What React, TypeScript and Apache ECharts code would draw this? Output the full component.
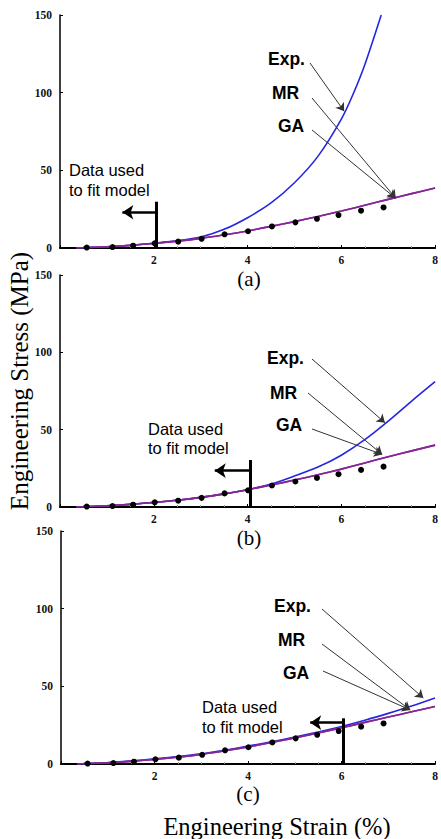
import React, { useEffect, useRef } from 'react';
import * as echarts from 'echarts';

// Model curve abscissae (engineering strain, %)
const strainModel = [0.35, 0.5, 1, 1.5, 2, 2.5, 3, 3.5, 4, 4.5, 5, 5.5, 6, 6.5, 7, 7.5, 8];
const strainExpA = [0.35, 0.5, 1, 1.5, 2, 2.5, 3, 3.5, 4, 4.5, 5, 5.5, 6, 6.25, 6.5, 6.85];

// Panel (a)
const expA = [0, 0.2, 0.8, 1.8, 3.1, 4.6, 7, 12, 19.5, 29, 42, 59, 83, 99, 118, 150];
const mrA = [0, 0.2, 0.8, 1.7, 3.0, 4.4, 6.2, 8.5, 11, 13.9, 17, 20.3, 23.8, 27.5, 31.3, 35, 38.6];
const gaA = [0, 0.2, 0.8, 1.7, 3.0, 4.4, 6.2, 8.5, 11, 13.9, 17, 20.3, 23.8, 27.5, 31.3, 35, 38.6];
// Panel (b)
const expB = [0, 0.2, 0.8, 1.7, 3.0, 4.4, 6.2, 8.5, 11.2, 14.8, 20, 25.8, 33.5, 43.5, 55.5, 68.5, 81];
const mrB = [0, 0.2, 0.8, 1.7, 3.0, 4.4, 6.2, 8.5, 11.2, 14.2, 17.4, 20.8, 24.5, 28.5, 32.5, 36.3, 40];
const gaB = [0, 0.2, 0.8, 1.7, 3.0, 4.4, 6.2, 8.5, 11.2, 14.2, 17.4, 20.8, 24.5, 28.5, 32.5, 36.3, 40];
// Panel (c)
const expC = [0, 0.25, 1, 2, 3.3, 4.8, 6.6, 8.9, 11.5, 14.3, 17.3, 20.6, 24.2, 28.2, 32.6, 37.3, 42.5];
const mrC = [0, 0.2, 0.8, 1.7, 3.0, 4.4, 6.2, 8.5, 11, 13.8, 16.8, 20, 23.3, 26.8, 30.2, 33.6, 37];
const gaC = [0, 0.2, 0.8, 1.7, 3.0, 4.4, 6.2, 8.5, 11, 13.8, 16.8, 20, 23.3, 26.8, 30.2, 33.6, 37];

// Test data points (dots)
const testStrain = [0.57, 1.12, 1.56, 2.02, 2.52, 3.02, 3.51, 4.01, 4.52, 5.02, 5.48, 5.94, 6.42, 6.9];
const testStress = [0.3, 0.6, 1.5, 3.0, 4.1, 5.9, 8.8, 10.8, 13.9, 16.5, 18.8, 21.2, 24.0, 26.1];

// Axis ticks
const stressTicks = [0, 50, 100, 150];
const strainTicks = [0, 2, 4, 6, 8];

const panelLabels = ['(a)', '(b)', '(c)'];
const fitLimits = [2.05, 4.05, 6.04];

const grids = [
  { left: 60, top: 15, width: 380, height: 233 },
  { left: 60, top: 275, width: 380, height: 232 },
  { left: 61, top: 531, width: 374, height: 233 },
];

// annotation layout (pixel text, arrow from pixel to data point)
const annots = [
  {
    exp: { text: [268, 59], from: [310, 63], to: [6.06, 88] },
    mr: { text: [272, 93], from: [312, 98], to: [7.16, 32] },
    ga: { text: [278, 126], from: [312, 130], to: [7.16, 32] },
    data: [69, 170, 190],
    bracket: { top: 29.8, arrowY: 23, arrowTo: 1.33 },
    label: [249, 279],
  },
  {
    exp: { text: [267, 358], from: [312, 359], to: [6.93, 54.5] },
    mr: { text: [270, 393], from: [308, 393], to: [6.87, 34] },
    ga: { text: [276, 425], from: [312, 429], to: [6.87, 34] },
    data: [148, 429, 448],
    bracket: { top: 30.4, arrowY: 23.5, arrowTo: 3.3 },
    label: [249, 538],
  },
  {
    exp: { text: [274, 606], from: [322, 609], to: [7.75, 42.5] },
    mr: { text: [278, 640], from: [322, 644], to: [7.47, 34.8] },
    ga: { text: [283, 673], from: [323, 671], to: [7.47, 34.8] },
    data: [202, 707, 727],
    bracket: { top: 29.4, arrowY: 26.6, arrowTo: 5.33 },
    label: [248, 794],
  },
];

const expSets = [expA, expB, expC];
const mrSets = [mrA, mrB, mrC];
const gaSets = [gaA, gaB, gaC];

const tickFont = { fontFamily: 'Liberation Serif', fontWeight: 'bold' as const, fontSize: 11.5, color: '#111' };

export default function App() {
  const ref = useRef<HTMLDivElement>(null);
  useEffect(() => {
    if (!ref.current) return;
    const chart = echarts.init(ref.current, undefined, { renderer: 'svg' });
    const xAxis: any[] = [];
    const yAxis: any[] = [];
    const series: any[] = [];
    const graphic: any[] = [];

    grids.forEach((g, i) => {
      xAxis.push({
        type: 'value', gridIndex: i, min: strainTicks[0], max: strainTicks[strainTicks.length - 1], interval: 2,
        axisLine: { show: true, lineStyle: { color: '#000', width: 2 } },
        axisTick: { show: true, inside: true, length: 3, lineStyle: { color: '#000' } },
        minorTick: { show: true, splitNumber: 4, length: 2, lineStyle: { color: '#999' } },
        axisLabel: { ...tickFont, margin: 6, formatter: (v: number) => (v === 0 ? '' : String(v)) },
        splitLine: { show: false },
      });
      yAxis.push({
        type: 'value', gridIndex: i, min: stressTicks[0], max: stressTicks[stressTicks.length - 1], interval: 50,
        axisLine: { show: true, lineStyle: { color: '#000', width: 1.5 } },
        axisTick: { show: true, inside: true, length: 3, lineStyle: { color: '#000' } },
        axisLabel: { ...tickFont, margin: 8 },
        splitLine: { show: false },
      });
      const a = annots[i];
      const strainForExp = i === 0 ? strainExpA : strainModel;
      series.push({
        name: 'Exp.', type: 'line', xAxisIndex: i, yAxisIndex: i, smooth: 0.3, symbol: 'none',
        data: strainForExp.map((x, k) => [x, expSets[i][k]]),
        lineStyle: { color: '#2626e0', width: 1.6 }, z: 3,
      });
      series.push({
        name: 'MR', type: 'line', xAxisIndex: i, yAxisIndex: i, smooth: 0.3, symbol: 'none',
        data: strainModel.map((x, k) => [x, mrSets[i][k]]),
        lineStyle: { color: '#a0207a', width: 1.6 }, z: 3,
      });
      const arrowStyle = { color: '#333', width: 1, type: 'solid' };
      series.push({
        name: 'GA', type: 'line', xAxisIndex: i, yAxisIndex: i, smooth: 0.3, symbol: 'none',
        data: strainModel.map((x, k) => [x, gaSets[i][k]]),
        lineStyle: { color: '#80289a', width: 1.6 }, z: 4,
        markLine: {
          silent: true, symbol: ['none', 'arrow'], symbolSize: 8, label: { show: false },
          lineStyle: arrowStyle, animation: false,
          data: [
            [{ x: a.exp.from[0], y: a.exp.from[1] }, { coord: a.exp.to }],
            [{ x: a.mr.from[0], y: a.mr.from[1] }, { coord: a.mr.to }],
            [{ x: a.ga.from[0], y: a.ga.from[1] }, { coord: a.ga.to }],
            [
              { coord: [fitLimits[i], a.bracket.arrowY], lineStyle: { color: '#000', width: 2.5 }, symbolSize: 11 },
              { coord: [a.bracket.arrowTo, a.bracket.arrowY], symbolSize: 11 },
            ],
            [
              { coord: [fitLimits[i], 0], lineStyle: { color: '#000', width: 3 }, symbol: 'none' },
              { coord: [fitLimits[i], a.bracket.top], symbol: 'none' },
            ],
          ],
        },
      });
      series.push({
        name: 'Test', type: 'scatter', xAxisIndex: i, yAxisIndex: i, symbol: 'circle', symbolSize: 6,
        data: testStrain.map((x, k) => [x, testStress[k]]),
        itemStyle: { color: '#000', opacity: 1 }, z: 5,
      });

      const sans = 'Liberation Sans, Arial, sans-serif';
      const addText = (t: string, x: number, y: number, font: string, align = 'left') => {
        graphic.push({
          type: 'text', x, y, z: 10,
          style: { text: t, font, fill: '#000', align, textAlign: align, verticalAlign: 'middle', textVerticalAlign: 'middle' },
        });
      };
      addText('Exp.', a.exp.text[0], a.exp.text[1], `bold 17.5px ${sans}`);
      addText('MR', a.mr.text[0], a.mr.text[1], `bold 17.5px ${sans}`);
      addText('GA', a.ga.text[0], a.ga.text[1], `bold 17.5px ${sans}`);
      addText('Data used', a.data[0], a.data[1], `16.5px ${sans}`);
      addText('to fit model', a.data[0], a.data[2], `16.5px ${sans}`);
      addText(panelLabels[i], a.label[0], a.label[1], '21px Liberation Serif, serif', 'center');
    });

    graphic.push({
      type: 'text', x: 277, y: 826, z: 10,
      style: { text: 'Engineering Strain (%)', font: '24.5px Liberation Serif, serif', fill: '#000', align: 'center', textAlign: 'center', verticalAlign: 'middle', textVerticalAlign: 'middle' },
    });
    graphic.push({
      type: 'text', x: 19, y: 381, rotation: Math.PI / 2, z: 10,
      style: { text: 'Engineering Stress (MPa)', font: '25px Liberation Serif, serif', fill: '#000', align: 'center', textAlign: 'center', verticalAlign: 'middle', textVerticalAlign: 'middle' },
    });

    chart.setOption({
      animation: false,
      backgroundColor: '#fff',
      grid: grids.map((g) => ({ ...g, containLabel: false })),
      xAxis,
      yAxis,
      series,
      graphic,
    });
    return () => chart.dispose();
  }, []);
  return <div ref={ref} style={{ position: 'fixed', left: 0, top: 0, width: 441, height: 839 }} />;
}
